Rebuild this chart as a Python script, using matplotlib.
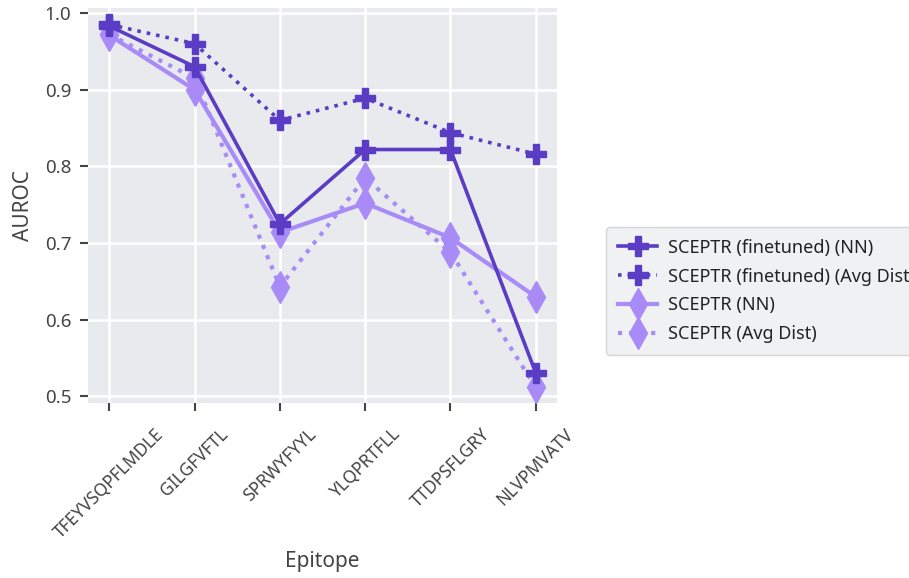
import matplotlib
matplotlib.use("Agg")
import matplotlib.pyplot as plt

epitopes = ["TFEYVSQPFLMDLE", "GILGFVFTL", "SPRWYFYYL", "YLQPRTFLL", "TTDPSFLGRY", "NLVPMVATV"]
ft_nn = [0.983, 0.930, 0.725, 0.822, 0.822, 0.531]
ft_avg = [0.985, 0.960, 0.860, 0.889, 0.844, 0.816]
nn = [0.971, 0.900, 0.714, 0.752, 0.707, 0.630]
avg = [0.972, 0.915, 0.643, 0.785, 0.688, 0.512]

dark = "#5B3CC4"
light = "#A98BF8"

plt.rcParams["font.family"] = ["Noto Sans", "DejaVu Sans"]
fig = plt.figure(figsize=(9.09, 5.78), dpi=100)
ax = fig.add_axes([88/909, 1-403/578, (557-88)/909, (403-8)/578])
ax.set_facecolor("#E8EAEE")
for s in ax.spines.values():
    s.set_visible(False)
ax.grid(True, color="white", linewidth=1.8)
ax.set_axisbelow(True)

x = list(range(len(epitopes)))
h3, = ax.plot(x, nn, color=light, lw=3, ls="-", marker="d", ms=16, label="SCEPTR (NN)", zorder=2)
h4, = ax.plot(x, avg, color=light, lw=3, ls=":", marker="d", ms=16, label="SCEPTR (Avg Dist)", zorder=2)
h1, = ax.plot(x, ft_nn, color=dark, lw=2.6, ls="-", marker="P", ms=14, label="SCEPTR (finetuned) (NN)", zorder=3)
h2, = ax.plot(x, ft_avg, color=dark, lw=2.6, ls=":", marker="P", ms=14, label="SCEPTR (finetuned) (Avg Dist)", zorder=3)

ax.set_xlim(-0.25, 5.25)
ax.set_ylim(0.4915, 1.0065)
ax.set_yticks([0.5, 0.6, 0.7, 0.8, 0.9, 1.0])
ax.set_yticklabels(["0.5", "0.6", "0.7", "0.8", "0.9", "1.0"])
ax.set_xticks(x)
ax.set_xticklabels(epitopes, rotation=45, ha="center")
ax.tick_params(axis="both", colors="#444444", labelcolor="#444444", length=6, width=1.5)
ax.tick_params(axis="y", labelsize=13.5, pad=6)
ax.tick_params(axis="x", labelsize=12.5, pad=10)
ax.set_xlabel("Epitope", fontsize=15, color="#444444", labelpad=7)
ax.set_ylabel("AUROC", fontsize=15, color="#444444", labelpad=8)

leg = fig.legend(handles=[h1, h2, h3, h4], loc="upper left", bbox_to_anchor=(606/909, 1-227/578),
                 fontsize=13, frameon=True, facecolor="#ECEEF1", edgecolor="#CCCCCC",
                 handlelength=2.2, handletextpad=0.6, borderaxespad=0, borderpad=0.65,
                 labelspacing=0.6)
for t in leg.get_texts():
    t.set_color("#222222")

fig.savefig("out.png", dpi=100)
